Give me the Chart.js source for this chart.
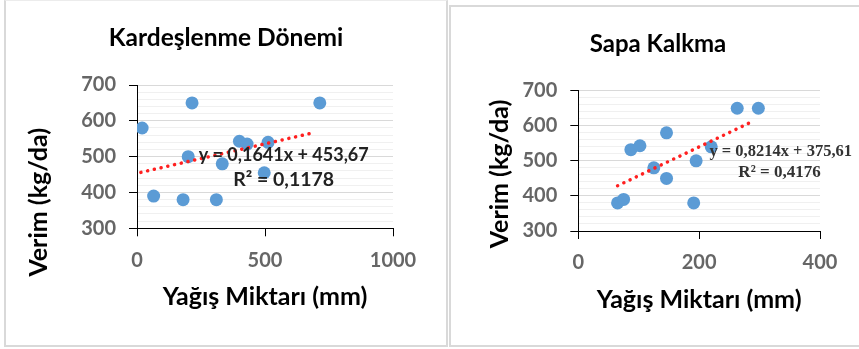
<!DOCTYPE html>
<html>
<head>
<meta charset="UTF-8">
<title>Verim - Yağış Miktarı</title>
<script src="https://cdn.jsdelivr.net/npm/chart.js"></script>
<style>
  body { margin: 0; background: #fff; overflow: hidden; width: 859px; height: 349px; position: relative; }
  .panel { position: absolute; box-sizing: border-box; border: 2px solid #d9d9d9; }
  canvas { position: absolute; }
</style>
</head>
<body>
<div class="panel" style="left:4px;top:0;width:444px;height:347px;border-top:1px solid #ececec"></div>
<div class="panel" style="left:449px;top:5px;width:420px;height:342px"></div>
<canvas id="kardes" width="440" height="344" style="left:6px;top:1px"></canvas>
<canvas id="sapa" width="407" height="337" style="left:452px;top:8px"></canvas>

<script>
// Kardeşlenme Dönemi
const kardesX = [20, 65, 180, 200, 215, 310, 333, 400, 430, 497, 512, 714];
const kardesY = [580, 390, 380, 500, 650, 380, 480, 543, 535, 455, 540, 650];
const kardesTrendX = [15, 695];
const kardesTrendY = [456.1, 567.7];
const kardesEq = ['y = 0,1641x + 453,67', 'R² = 0,1178'];

// Sapa Kalkma
const sapaX = [65, 75, 87, 102, 125, 146, 146, 191, 195, 220, 263, 298];
const sapaY = [380, 390, 532, 543, 480, 580, 450, 380, 500, 540, 650, 650];
const sapaTrendX = [65, 291];
const sapaTrendY = [429, 614.6];
const sapaEq = ['y = 0,8214x + 375,61', 'R² = 0,4176'];

const FONT = 'Lato';

function toPoints(xs, ys) {
  return xs.map((x, i) => ({ x: x, y: ys[i] }));
}

// equation labels + y axis title drawn on top of the datasets
const notesPlugin = {
  id: 'notes',
  afterDatasetsDraw(chart, args, opts) {
    const { ctx, chartArea, scales } = chart;
    ctx.save();
    ctx.textAlign = 'center';
    ctx.textBaseline = 'middle';
    (opts.labels || []).forEach(l => {
      ctx.font = l.font;
      ctx.fillStyle = l.color;
      ctx.fillText(l.text, scales.x.getPixelForValue(l.x), scales.y.getPixelForValue(l.y));
    });
    if (opts.yTitle) {
      const t = opts.yTitle;
      ctx.translate(chartArea.left + t.dx, chartArea.bottom + t.dy);
      ctx.rotate(-Math.PI / 2);
      ctx.font = 'bold 25px ' + FONT;
      ctx.fillStyle = '#000';
      ctx.fillText(t.text, 0, 0);
    }
    ctx.restore();
  }
};

function makeChart(id, c) {
  return new Chart(document.getElementById(id), {
    type: 'scatter',
    data: {
      datasets: [{
        label: 'Trend',
        data: toPoints(c.trendX, c.trendY),
        showLine: true,
        pointRadius: 0,
        borderColor: '#ff2020',
        borderWidth: 3.5,
        borderDash: [0.1, 6.8],
        borderCapStyle: 'round',
        order: 0
      }, {
        label: 'Verim',
        data: toPoints(c.xs, c.ys),
        pointRadius: 6.5,
        pointBorderWidth: 0,
        backgroundColor: '#5b9bd5',
        order: 1
      }]
    },
    options: {
      responsive: false,
      animation: false,
      layout: { padding: c.padding },
      plugins: {
        legend: { display: false },
        tooltip: { enabled: false },
        title: {
          display: true,
          text: c.title,
          color: '#000',
          font: { family: FONT, size: c.titleSize, weight: 'bold', lineHeight: 1.2 },
          padding: c.titlePad
        },
        notes: {
          labels: c.labels,
          yTitle: c.yTitle
        }
      },
      scales: {
        x: {
          type: 'linear',
          min: c.xTicks[0],
          max: c.xTicks[c.xTicks.length - 1],
          afterFit: s => { s.height = c.xHeight; },
          ticks: {
            stepSize: c.xTicks[1] - c.xTicks[0],
            padding: 12,
            color: '#666',
            font: { family: FONT, size: 20, weight: 'bold' },
            callback: v => String(v)
          },
          grid: { drawOnChartArea: false, tickLength: 8, tickColor: '#000', color: '#000' },
          border: { color: '#000' },
          title: {
            display: true,
            text: 'Yağış Miktarı (mm)',
            color: '#000',
            padding: 0,
            font: { family: FONT, size: 25, weight: 'bold', lineHeight: 1.2 }
          }
        },
        y: {
          min: 300,
          max: 700,
          afterFit: s => { s.width = c.yWidth; },
          ticks: {
            stepSize: 20,
            autoSkip: false,
            padding: 13,
            color: '#666',
            font: { family: FONT, size: 20, weight: 'bold' },
            callback: v => (v % 100 === 0 ? String(v) : '')
          },
          grid: {
            tickLength: 8,
            color: g => (g.tick && g.tick.value % 100 === 0 ? '#d9d9d9' : '#f0f0f0'),
            tickColor: g => (g.tick && g.tick.value % 100 === 0 ? '#000' : 'rgba(0,0,0,0)')
          },
          border: { color: '#000' }
        }
      }
    },
    plugins: [notesPlugin]
  });
}

makeChart('kardes', {
  title: 'Kardeşlenme Dönemi',
  titleSize: 24.5,
  xs: kardesX, ys: kardesY,
  trendX: kardesTrendX, trendY: kardesTrendY,
  xTicks: [0, 500, 1000],
  padding: { left: 53, right: 53, top: 0, bottom: 33 },
  titlePad: { top: 22.3, bottom: 32.3 },
  yWidth: 78,
  xHeight: 83.7,
  yTitle: { text: 'Verim (kg/da)', dx: -98, dy: -26 },
  labels: [
    { text: kardesEq[0], x: 573, y: 505, font: 'bold 18px ' + FONT, color: '#222' },
    { text: kardesEq[1], x: 573, y: 435, font: 'bold 19.5px ' + FONT, color: '#222' }
  ]
});

makeChart('sapa', {
  title: 'Sapa Kalkma',
  titleSize: 24,
  xs: sapaX, ys: sapaY,
  trendX: sapaTrendX, trendY: sapaTrendY,
  xTicks: [0, 200, 400],
  padding: { left: 44, right: 39, top: 0, bottom: 30 },
  titlePad: { top: 21.6, bottom: 32.3 },
  yWidth: 82.3,
  xHeight: 84,
  yTitle: { text: 'Verim (kg/da)', dx: -78.3, dy: -57 },
  labels: [
    { text: sapaEq[0], x: 335, y: 525, font: 'bold 16.5px "Liberation Serif"', color: '#333' },
    { text: sapaEq[1], x: 333, y: 466, font: 'bold 17px "Liberation Serif"', color: '#333' }
  ]
});
</script>
</body>
</html>
